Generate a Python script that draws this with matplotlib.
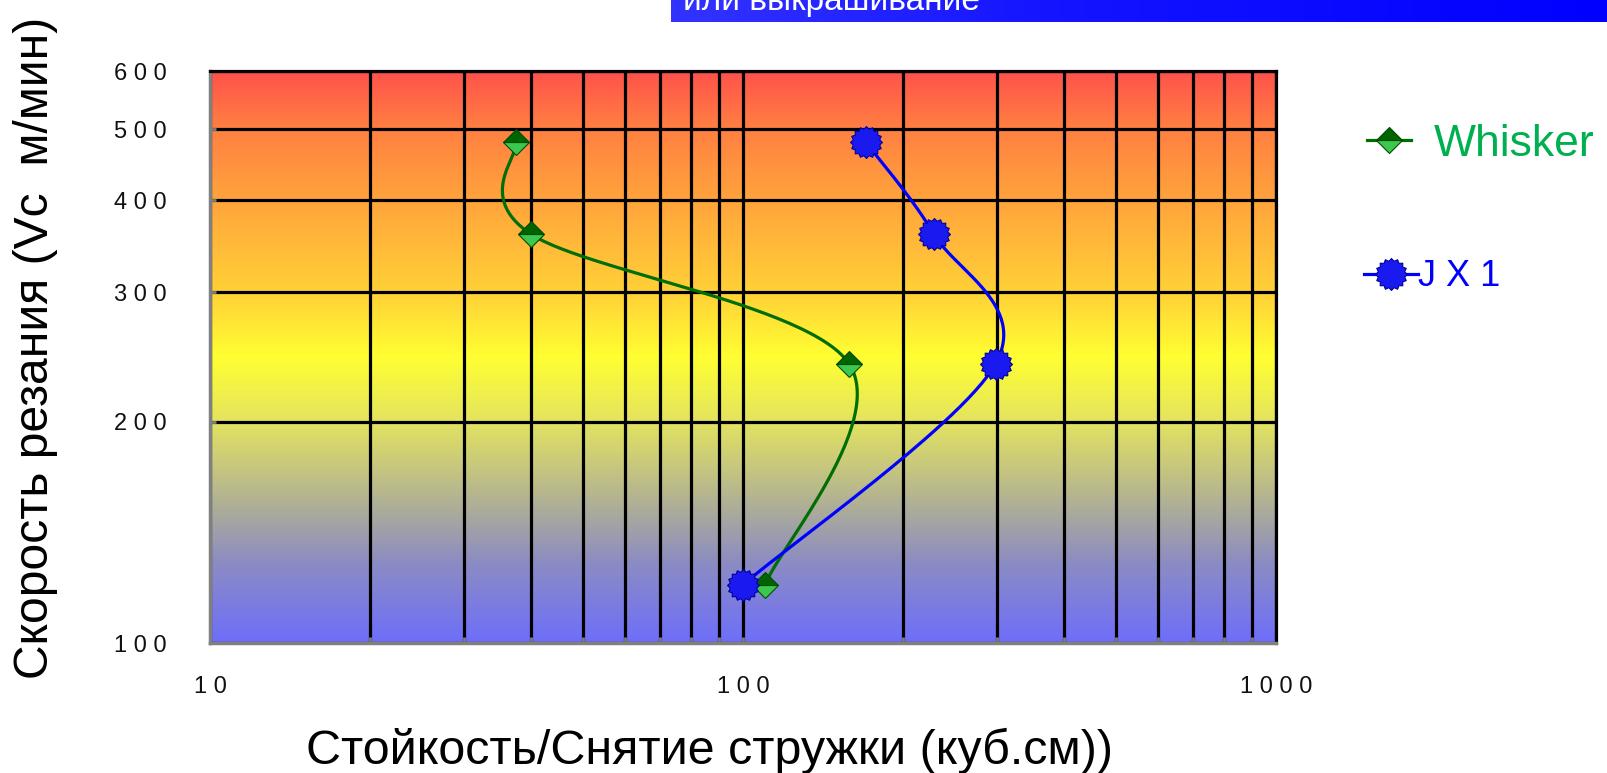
import numpy as np
import matplotlib
matplotlib.use("Agg")
import matplotlib.pyplot as plt
from matplotlib.colors import LinearSegmentedColormap
from matplotlib.lines import Line2D
from matplotlib.path import Path
from matplotlib.ticker import FixedLocator, FixedFormatter, NullFormatter, LogLocator

# ---- data ----
speed = [480, 360, 240, 120]                 # Vc, m/min
whisker_life = [37.5, 40, 158, 110]          # куб.см
jx1_life = [170, 228, 298, 100]

y_ticks = [100, 200, 300, 400, 500, 600]
y_tick_labels = ["1 0 0", "2 0 0", "3 0 0", "4 0 0", "5 0 0", "6 0 0"]
x_ticks = [10, 100, 1000]
x_tick_labels = ["1 0", "1 0 0", "1 0 0 0"]

series_names = ["Whisker", "J X 1"]

W, H = 1608, 773
FONT = "Liberation Sans"

GREEN_LINE = "#006e00"
BLUE_LINE = "#0000ff"


def smooth(xs, ys, n=60):
    # Catmull-Rom through the points in log-log space (like Excel's smoothed line)
    p = np.column_stack([np.log10(xs), np.log10(ys)])
    p = np.vstack([p[0], p, p[-1]])
    t = np.linspace(0, 1, n)[:, None]
    segs = []
    for i in range(1, len(p) - 2):
        p0, p1, p2, p3 = p[i - 1], p[i], p[i + 1], p[i + 2]
        seg = 0.5 * (2 * p1 + (-p0 + p2) * t
                     + (2 * p0 - 5 * p1 + 4 * p2 - p3) * t ** 2
                     + (-p0 + 3 * p1 - 3 * p2 + p3) * t ** 3)
        segs.append(seg)
    c = np.vstack(segs)
    return 10 ** c[:, 0], 10 ** c[:, 1]


def gear(teeth=16, r_in=0.84):
    ang = np.linspace(0, 2 * np.pi, 2 * teeth, endpoint=False) + np.pi / 2
    r = np.where(np.arange(2 * teeth) % 2 == 0, 1.0, r_in)
    verts = np.column_stack([r * np.cos(ang), r * np.sin(ang)])
    verts = np.vstack([verts, verts[:1]])
    codes = [Path.MOVETO] + [Path.LINETO] * (len(verts) - 2) + [Path.CLOSEPOLY]
    return Path(verts, codes)


diamond_style = dict(marker="D", ms=13.5, mfc="#3cc850", mfcalt="#006400",
                     fillstyle="bottom", mec="#004d00", mew=0.8)
gear_style = dict(marker=gear(), ms=23, mfc="#1a1af0", mec="#0000a0", mew=0.8)

fig = plt.figure(figsize=(W / 100, H / 100), dpi=100)

# axes box in pixels
x0, x1, y_top, y_bot = 210, 1276, 71, 643
rect = [x0 / W, 1 - y_bot / H, (x1 - x0) / W, (y_bot - y_top) / H]

# gradient background (red top -> yellow -> blue bottom)
bg = fig.add_axes(rect, zorder=0)
stops = [
    (0.00, (110, 110, 250)),
    (0.14, (140, 140, 195)),
    (0.24, (175, 175, 150)),
    (0.31, (200, 200, 125)),
    (0.39, (228, 228, 95)),
    (0.50, (255, 255, 50)),
    (0.61, (255, 210, 55)),
    (0.77, (255, 165, 60)),
    (0.90, (255, 128, 65)),
    (1.00, (255, 82, 75)),
]
cmap = LinearSegmentedColormap.from_list("bg", [(p, np.array(c) / 255) for p, c in stops])
bg.imshow(np.linspace(0, 1, 512)[:, None], cmap=cmap, origin="lower",
          aspect="auto", extent=[0, 1, 0, 1], interpolation="bilinear")
bg.axis("off")

ax = fig.add_axes(rect, zorder=1)
ax.set_facecolor("none")
ax.set_xscale("log")
ax.set_yscale("log")
ax.set_xlim(10, 1000)
ax.set_ylim(100, 600)

# ticks and grid
ax.xaxis.set_major_locator(FixedLocator(x_ticks))
ax.xaxis.set_major_formatter(FixedFormatter(x_tick_labels))
ax.xaxis.set_minor_locator(LogLocator(base=10, subs=np.arange(2, 10)))
ax.xaxis.set_minor_formatter(NullFormatter())
ax.yaxis.set_major_locator(FixedLocator(y_ticks))
ax.yaxis.set_major_formatter(FixedFormatter(y_tick_labels))
ax.yaxis.set_minor_locator(FixedLocator([]))
ax.grid(True, which="both", axis="x", color="black", lw=2.3)
ax.grid(True, which="major", axis="y", color="black", lw=2.3)
ax.set_axisbelow(True)

for s in ["left", "bottom"]:
    ax.spines[s].set_color("#808080")
    ax.spines[s].set_linewidth(2.5)
for s in ["top", "right"]:
    ax.spines[s].set_color("black")
    ax.spines[s].set_linewidth(2.3)

ax.tick_params(which="both", direction="in", color="#808080", width=2, length=4)
ax.tick_params(axis="y", pad=31)
ax.tick_params(axis="x", pad=24)
for lab in ax.get_xticklabels() + ax.get_yticklabels():
    lab.set_family(FONT)
    lab.set_fontsize(17)
    lab.set_color("#111111")

# series: smoothed curves, then the measured points on top
wx, wy = smooth(whisker_life, speed)
jx, jy = smooth(jx1_life, speed)
ax.plot(wx, wy, color=GREEN_LINE, lw=2.3, zorder=3)
ax.plot(jx, jy, color=BLUE_LINE, lw=2.3, zorder=3)
ax.plot(whisker_life, speed, ls="none", zorder=4, **diamond_style)
ax.plot(jx1_life, speed, ls="none", zorder=4, **gear_style)

# legend entries, one block per series
h_w = Line2D([], [], color=GREEN_LINE, lw=2.3, **diamond_style)
h_j = Line2D([], [], color=BLUE_LINE, lw=2.3, **gear_style)

leg1 = fig.legend(handles=[h_w], labels=[series_names[0]], loc="center left",
                  bbox_to_anchor=(1367 / W, 1 - 144 / H), frameon=False,
                  prop={"family": FONT, "size": 32},
                  handlelength=1.0, handletextpad=0.5, borderpad=0, borderaxespad=0)
leg1.get_texts()[0].set_color("#00b050")
leg2 = fig.legend(handles=[h_j], labels=[series_names[1]], loc="center left",
                  bbox_to_anchor=(1364 / W, 1 - 277 / H), frameon=False,
                  prop={"family": FONT, "size": 26},
                  handlelength=1.5, handletextpad=0.0, borderpad=0, borderaxespad=0)
leg2.get_texts()[0].set_color("#0000ff")

# axis titles
ax.set_xlabel("Стойкость/Снятие стружки (куб.см))", family=FONT,
              fontsize=34.8, va="baseline", ha="center")
ax.xaxis.set_label_coords(0.469, (y_bot - 764) / (y_bot - y_top))
ax.set_ylabel("Скорость резания (Vc  м/мин)", family=FONT,
              fontsize=34.6, va="baseline", ha="center", rotation_mode="anchor")
ax.yaxis.set_label_coords((48 - x0) / (x1 - x0), (y_bot - 348) / (y_bot - y_top))

# title strip at the top
band = fig.add_axes([671 / W, 1 - 22 / H, 1 - 671 / W, 22 / H], zorder=2)
bcmap = LinearSegmentedColormap.from_list(
    "band", [(0, (0.2, 0.2, 1.0)), (0.4, (0.08, 0.08, 1.0)), (1, (0.0, 0.0, 1.0))])
band.imshow(np.linspace(0, 1, 256)[None, :], cmap=bcmap, aspect="auto",
            extent=[0, 1, 0, 1], interpolation="bilinear")
band.axis("off")
fig.text(683 / W, 1 - 10 / H, "или выкрашивание", color="white",
         family=FONT, fontsize=24, va="baseline", zorder=3)

fig.savefig("out.png", dpi=100)
